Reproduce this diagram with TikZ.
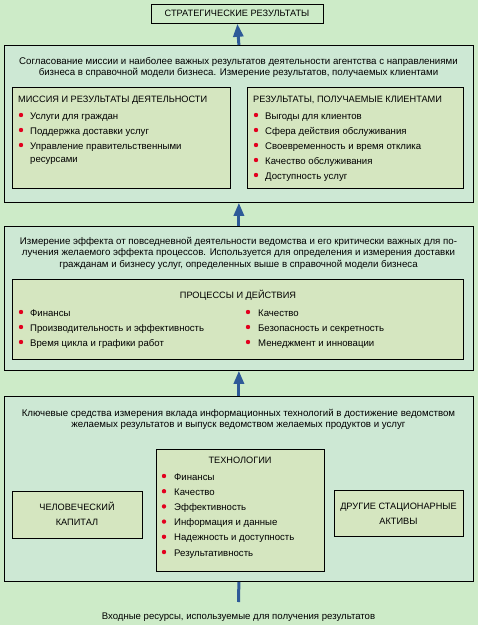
\documentclass[tikz,border=0pt]{standalone}
\usepackage{fontspec}
\setmainfont{Liberation Sans}
\usetikzlibrary{arrows.meta}

\definecolor{pagegreen}{RGB}{205,235,200}
\definecolor{boxgreen}{RGB}{205,232,212}
\definecolor{innergreen}{RGB}{213,230,192}
\definecolor{arrowblue}{RGB}{46,90,152}
\definecolor{dotred}{RGB}{226,0,30}

\begin{document}
\begin{tikzpicture}[x=1pt,y=-1pt,
    every node/.style={font=\fontsize{9.6}{11}\selectfont, inner sep=0pt},
    bigbox/.style={draw, line width=0.8pt, fill=boxgreen, anchor=north west},
    subbox/.style={draw, line width=0.8pt, fill=innergreen, anchor=north west},
    para/.style={anchor=base, align=center},
    head/.style={anchor=base west, font=\fontsize{9.2}{11}\selectfont},
    item/.style={anchor=base west},
    upflow/.style={line width=3pt, arrowblue, -{Triangle[width=10pt,length=13pt]}}]

  % Page: one unit = one pixel of the 478x625 sheet, y grows downwards
  \fill[pagegreen] (0,0) rectangle (478,625);
  \useasboundingbox (0,0) rectangle (478,625);

  % Strategic outcomes on top
  \node[draw, line width=0.8pt, fill=pagegreen, minimum width=172pt, minimum height=19pt,
        anchor=north west] (strat) at (151,4) {};
  \node[anchor=base, font=\fontsize{9.2}{11}\selectfont] (strattext) at (237,16.5)
    {СТРАТЕГИЧЕСКИЕ РЕЗУЛЬТАТЫ};

  % The three layers, from top to bottom
  \node[bigbox, minimum width=469pt, minimum height=157pt] (mission) at (4,45) {};
  \node[bigbox, minimum width=469pt, minimum height=144pt] (process) at (4,226) {};
  \node[bigbox, minimum width=469pt, minimum height=185pt] (tech) at (4,396) {};

  % ---- Layer 1: mission and customer results
  % (a multi-line node sits on the baseline of its last line)
  \node[para, font=\fontsize{9.7}{11}\selectfont] (missiontext) at (238.5,75)
    {Согласование миссии и наиболее важных результатов деятельности агентства с направлениями\\
     бизнеса в справочной модели бизнеса. Измерение результатов, получаемых клиентами};

  \node[subbox, minimum width=218pt, minimum height=101pt] (missbox) at (12,87) {};
  \node[subbox, minimum width=216pt, minimum height=101pt] (custbox) at (247,87) {};

  \node[head] (misshead) at (18,102) {МИССИЯ И РЕЗУЛЬТАТЫ ДЕЯТЕЛЬНОСТИ};
  \foreach \t [count=\i] in {Услуги для граждан, Поддержка доставки услуг,
                             Управление правительственными}
  {
    \fill[dotred] (21,{115+15*(\i-1)}) circle (2.2);
    \node[item] (miss\i) at (30,{119+15*(\i-1)}) {\t};
  }
  \node[item] (miss4) at (30,162) {ресурсами};

  \node[head] (custhead) at (253,102) {РЕЗУЛЬТАТЫ, ПОЛУЧАЕМЫЕ КЛИЕНТАМИ};
  \foreach \t [count=\i] in {Выгоды для клиентов, Сфера действия обслуживания,
                             Своевременность и время отклика, Качество обслуживания,
                             Доступность услуг}
  {
    \fill[dotred] (256,{115+15*(\i-1)}) circle (2.2);
    \node[item] (cust\i) at (265,{119+15*(\i-1)}) {\t};
  }

  % ---- Layer 2: processes and activities
  \node[para, font=\fontsize{9.7}{11.5}\selectfont] (processtext) at (238.5,267)
    {Измерение эффекта от повседневной деятельности ведомства и его критически важных для по-\\
     лучения желаемого эффекта процессов. Используется для определения и измерения доставки\\
     гражданам и бизнесу услуг, определенных выше в справочной модели бизнеса};

  \node[subbox, minimum width=451pt, minimum height=80pt] (procbox) at (12,279) {};
  \node[anchor=base, font=\fontsize{9.2}{11}\selectfont] (prochead) at (238,298)
    {ПРОЦЕССЫ И ДЕЙСТВИЯ};
  \foreach \t [count=\i] in {Финансы, Производительность и эффективность,
                             Время цикла и графики работ}
  {
    \fill[dotred] (21,{312+15*(\i-1)}) circle (2.2);
    \node[item] (procl\i) at (30,{316+15*(\i-1)}) {\t};
  }
  \foreach \t [count=\i] in {Качество, Безопасность и секретность,
                             Менеджмент и инновации}
  {
    \fill[dotred] (248,{312+15*(\i-1)}) circle (2.2);
    \node[item] (procr\i) at (258,{316+15*(\i-1)}) {\t};
  }

  % ---- Layer 3: IT and other inputs
  \node[para, font=\fontsize{9.7}{11}\selectfont] (techtext) at (238.5,427)
    {Ключевые средства измерения вклада информационных технологий в достижение ведомством\\
     желаемых результатов и выпуск ведомством желаемых продуктов и услуг};

  \node[subbox, minimum width=130pt, minimum height=47pt] (human) at (12,491) {};
  \node[para, font=\fontsize{9.2}{14.5}\selectfont] (humantext) at (77,525)
    {ЧЕЛОВЕЧЕСКИЙ\\КАПИТАЛ};

  \node[subbox, minimum width=168pt, minimum height=122pt] (itbox) at (156,449) {};
  \node[anchor=base, font=\fontsize{9.2}{11}\selectfont] (ithead) at (240,463) {ТЕХНОЛОГИИ};
  \foreach \t [count=\i] in {Финансы, Качество, Эффективность, Информация и данные,
                             Надежность и доступность, Результативность}
  {
    \fill[dotred] (164,{476+15.2*(\i-1)}) circle (2.2);
    \node[item] (it\i) at (174,{480+15.2*(\i-1)}) {\t};
  }

  \node[subbox, minimum width=129pt, minimum height=46pt] (assets) at (334,490) {};
  \node[para, font=\fontsize{9.2}{15}\selectfont] (assetstext) at (398.5,524)
    {ДРУГИЕ СТАЦИОНАРНЫЕ\\АКТИВЫ};

  % Inputs at the bottom
  \node[anchor=base] (inputs) at (238.5,619)
    {Входные ресурсы, используемые для получения результатов};

  % Upward flow between the layers
  \draw[upflow] (mission.north) -- (strat.south);
  \draw[upflow] (process.north) -- (mission.south);
  \draw[upflow] (tech.north) -- (process.south);
  \draw[line width=3pt, arrowblue] (inputs.north |- 0,602) -- (tech.south);

\end{tikzpicture}
\end{document}
